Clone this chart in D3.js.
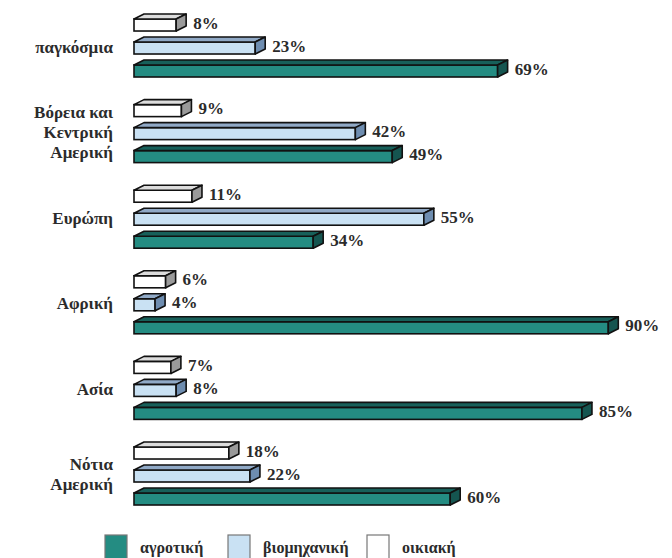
<!DOCTYPE html>
<html>
<head>
<meta charset="utf-8">
<script src="https://cdn.jsdelivr.net/npm/d3@7"></script>
<style>
  body { margin: 0; background: #fff; }
</style>
</head>
<body>
<svg id="chart"></svg>
<script>
const categories = [
  ['παγκόσμια'],
  ['Βόρεια και', 'Κεντρική', 'Αμερική'],
  ['Ευρώπη'],
  ['Αφρική'],
  ['Ασία'],
  ['Νότια', 'Αμερική']
];
const series = ['οικιακή', 'βιομηχανική', 'αγροτική'];
const domestic = [8, 9, 11, 6, 7, 18];
const industrial = [23, 42, 55, 4, 8, 22];
const agricultural = [69, 49, 34, 90, 85, 60];
const legendOrder = ['αγροτική', 'βιομηχανική', 'οικιακή'];

const values = { 'οικιακή': domestic, 'βιομηχανική': industrial, 'αγροτική': agricultural };
const colors = {
  'αγροτική':    { front: '#248c82', top: '#17605a', side: '#155550' },
  'βιομηχανική': { front: '#c9e1f3', top: '#90a9c6', side: '#6e8db0' },
  'οικιακή':     { front: '#ffffff', top: '#dcdcdc', side: '#9a9a9a' }
};

const W = 672, H = 558;
const dx = 10, dy = 5;
const FONT = 'Liberation Serif';

const svg = d3.select('#chart').attr('width', W).attr('height', H);

const x = d3.scaleLinear().domain([0, 100]).range([134, 661]);

const keys = categories.map((c, i) => i);
const y0 = d3.scaleBand().domain(keys).range([14, 505]).paddingInner(0.264).paddingOuter(0);
const y1 = d3.scaleBand().domain(series).range([0, y0.bandwidth()]).paddingInner(0.26).paddingOuter(0);

const groups = svg.append('g')
  .selectAll('g')
  .data(keys)
  .enter().append('g')
  .attr('transform', d => `translate(0,${y0(d)})`);

// category labels
groups.append('text')
  .attr('text-anchor', 'end')
  .attr('font-family', FONT)
  .attr('font-weight', 'bold')
  .attr('font-size', 17)
  .attr('fill', '#2b2b2b')
  .each(function(d) {
    const lines = categories[d];
    const lh = 20;
    const mid = y0.bandwidth() / 2 + 7;
    d3.select(this).selectAll('tspan')
      .data(lines)
      .enter().append('tspan')
      .attr('x', 113)
      .attr('y', (l, i) => mid + (i - (lines.length - 1) / 2) * lh)
      .text(l => l);
  });

const bars = groups.selectAll('g.bar')
  .data(d => series.map(s => ({ s, v: values[s][d] })))
  .enter().append('g')
  .attr('class', 'bar')
  .attr('transform', d => `translate(0,${y1(d.s)})`);

const h = y1.bandwidth();
const x0 = x(0);

bars.append('rect')
  .attr('x', x0)
  .attr('y', dy)
  .attr('width', d => x(d.v) - x0)
  .attr('height', h - dy)
  .attr('fill', d => colors[d.s].front)
  .attr('stroke', '#111')
  .attr('stroke-width', 1.6);

bars.append('path')
  .attr('d', d => {
    const xe = x(d.v);
    return `M${x0},${dy}L${x0 + dx},0L${xe + dx},0L${xe},${dy}Z`;
  })
  .attr('fill', d => colors[d.s].top)
  .attr('stroke', '#111')
  .attr('stroke-width', 1.6)
  .attr('stroke-linejoin', 'round');

bars.append('path')
  .attr('d', d => {
    const xe = x(d.v);
    return `M${xe},${dy}L${xe + dx},0L${xe + dx},${h - dy}L${xe},${h}Z`;
  })
  .attr('fill', d => colors[d.s].side)
  .attr('stroke', '#111')
  .attr('stroke-width', 1.6)
  .attr('stroke-linejoin', 'round');

bars.append('text')
  .attr('x', d => x(d.v) + dx + 7)
  .attr('y', h / 2 + 6)
  .attr('font-family', FONT)
  .attr('font-weight', 'bold')
  .attr('font-size', 17)
  .attr('fill', '#2b2b2b')
  .text(d => d.v + '%');

// legend
const legendX = [105, 228, 367];
const legend = svg.append('g')
  .selectAll('g')
  .data(legendOrder)
  .enter().append('g')
  .attr('transform', (d, i) => `translate(${legendX[i]},535)`);

legend.append('rect')
  .attr('width', 22)
  .attr('height', 24)
  .attr('fill', d => colors[d].front)
  .attr('stroke', '#777')
  .attr('stroke-width', 1.2);

legend.append('text')
  .attr('x', 35)
  .attr('y', 18)
  .attr('font-family', FONT)
  .attr('font-weight', 'bold')
  .attr('font-size', 16)
  .attr('fill', '#2b2b2b')
  .text(d => d);
</script>
</body>
</html>
